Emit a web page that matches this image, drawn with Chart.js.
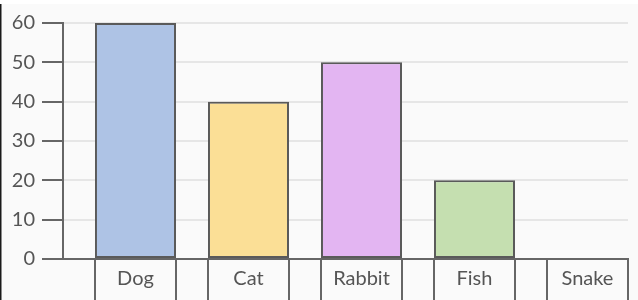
<!DOCTYPE html>
<html>
<head>
<meta charset="utf-8">
<script src="https://cdn.jsdelivr.net/npm/chart.js@4.4.1/dist/chart.umd.min.js"></script>
<style>
  html, body { margin: 0; padding: 0; background: #ffffff; }
  #wrap { width: 638px; height: 300px; }
</style>
</head>
<body>
<div id="wrap"><canvas id="myChart" width="638" height="300"></canvas></div>
<script>
// chart data
const categories = ['Dog', 'Cat', 'Rabbit', 'Fish', 'Snake'];
const counts = [60, 40, 50, 20, 0];
const yTicks = [0, 10, 20, 30, 40, 50, 60];
const barColors = ['#aec3e5', '#fbdf96', '#e3b5f2', '#c5dfb0', '#f2b8b8'];

// each bar sits at the right side of its slot, gap on the left
const barFrac = 0.717;
const slotCenter = i => i + 1 - barFrac / 2;

// page background: off white with white top strip and dark left edge
const bgPlugin = {
  id: 'bg',
  beforeDraw(chart) {
    const ctx = chart.ctx;
    ctx.save();
    ctx.fillStyle = '#fafafa';
    ctx.fillRect(0, 0, chart.width, chart.height);
    ctx.fillStyle = '#ffffff';
    ctx.fillRect(0, 0, chart.width, 4);
    ctx.fillStyle = '#1a1a1a';
    ctx.fillRect(0, 4, 1.5, chart.height - 4);
    ctx.restore();
  }
};

// label boxes under the axis, at each bar's edges
const boxPlugin = {
  id: 'boxes',
  afterDraw(chart) {
    const ctx = chart.ctx;
    const meta = chart.getDatasetMeta(0);
    const top = chart.chartArea.bottom;
    ctx.save();
    ctx.strokeStyle = '#666666';
    ctx.lineWidth = 2;
    meta.data.forEach(bar => {
      const half = bar.width / 2;
      [bar.x - half, bar.x + half].forEach(x => {
        ctx.beginPath();
        ctx.moveTo(x, top);
        ctx.lineTo(x, chart.height);
        ctx.stroke();
      });
    });
    ctx.restore();
  }
};

new Chart(document.getElementById('myChart'), {
  type: 'bar',
  data: {
    datasets: [{
      data: counts.map((v, i) => ({ x: slotCenter(i), y: v })),
      backgroundColor: barColors,
      borderColor: '#5a5a5a',
      borderWidth: 2,
      borderSkipped: false,
      categoryPercentage: 1,
      barPercentage: barFrac
    }]
  },
  options: {
    responsive: false,
    animation: false,
    layout: { padding: { top: 23, right: 10, left: 0, bottom: 0 } },
    plugins: { legend: { display: false }, tooltip: { enabled: false } },
    scales: {
      x: {
        type: 'linear',
        offset: false,
        min: 0,
        max: categories.length,
        afterBuildTicks: s => { s.ticks = categories.map((c, i) => ({ value: slotCenter(i) })); },
        afterFit: s => { s.height = 41; },
        grid: { display: false, drawTicks: false, offset: false },
        border: { display: true, color: '#666666', width: 2 },
        ticks: {
          autoSkip: false,
          maxRotation: 0,
          padding: 8,
          color: '#555555',
          font: { family: 'Lato', size: 20 },
          callback: (v, i) => categories[i]
        }
      },
      y: {
        min: 0,
        max: 60,
        afterBuildTicks: s => { s.ticks = yTicks.map(v => ({ value: v })); },
        afterFit: s => { s.width = 63; },
        grid: { color: '#e6e6e6', lineWidth: 2, tickColor: '#666666', tickWidth: 2, tickLength: 21 },
        border: { display: true, color: '#666666', width: 2 },
        ticks: {
          padding: 7,
          color: '#555555',
          font: { family: 'Lato', size: 20 }
        }
      }
    }
  },
  plugins: [bgPlugin, boxPlugin]
});
</script>
</body>
</html>
